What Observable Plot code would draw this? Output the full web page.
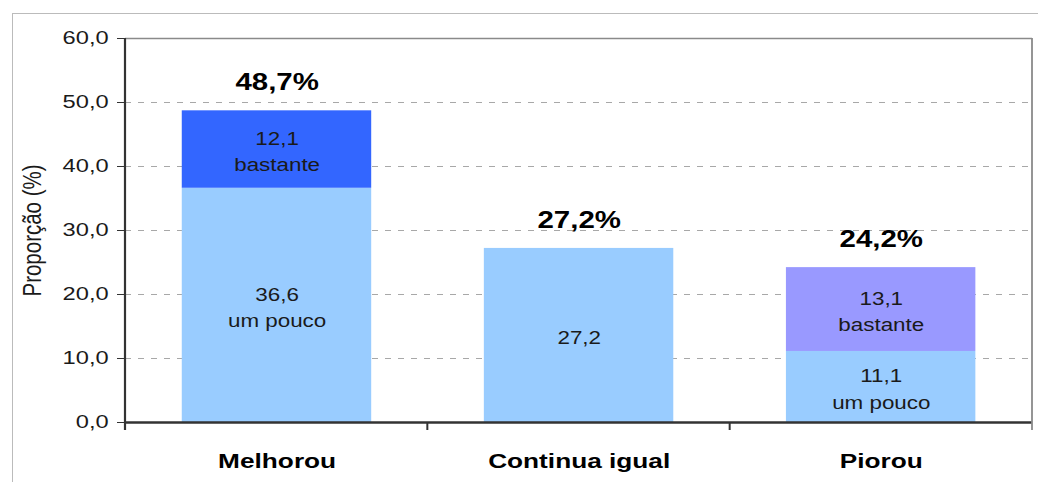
<!DOCTYPE html>
<html>
<head>
<meta charset="utf-8">
<script src="https://cdn.jsdelivr.net/npm/d3@7"></script>
<script src="https://cdn.jsdelivr.net/npm/@observablehq/plot@0.6"></script>
<style>
  html, body { margin: 0; padding: 0; background: #fff; }
  #wrap { position: relative; width: 1038px; height: 482px; overflow: hidden; background: #fff; }
  #border { position: absolute; left: 12px; top: 13px; width: 1040px; height: 480px;
            border-left: 1.5px solid #bbb; border-top: 1.5px solid #bbb; }
  #chart { position: absolute; left: 0; top: 0; }
  #chart svg line, #chart svg rect, #chart svg path { vector-effect: non-scaling-stroke; }
</style>
</head>
<body>
<div id="wrap"><div id="border"></div><div id="chart"></div></div>
<script>
// ---- data ----
const categories = ["Melhorou", "Continua igual", "Piorou"];
const umPouco = [36.6, 27.2, 11.1];
const bastante = [12.1, 0, 13.1];
const totals = [48.7, 27.2, 24.2];
const yTicks = [0, 10, 20, 30, 40, 50, 60];
const gridTicks = [10, 20, 30, 40, 50];
const partNames = ["um pouco", "bastante"];
const umPoucoColors = ["#99CCFF", "#99CCFF", "#99CCFF"];
const bastanteColors = ["#3366FF", "#3366FF", "#9999FF"];
const yLabel = "Proporção (%)";

// ---- layout ----
const W = 1038, H = 482, S = 1.28;          // reference is horizontally stretched
const PW = W / S;
const fmt = v => v.toFixed(1).replace(".", ",");

const rows = [];
categories.forEach((c, i) => {
  const split = bastante[i] > 0;
  rows.push({cat: c, part: partNames[0], value: umPouco[i], fill: umPoucoColors[i],
             label: fmt(umPouco[i]) + (split ? "\n" + partNames[0] : "")});
  if (split) rows.push({cat: c, part: partNames[1], value: bastante[i], fill: bastanteColors[i],
             label: fmt(bastante[i]) + "\n" + partNames[1]});
});
const totalRows = categories.map((c, i) => ({cat: c, total: totals[i]}));

const plot = Plot.plot({
  width: PW,
  height: H,
  marginLeft: 125 / S,
  marginRight: 6 / S,
  marginTop: 38,
  marginBottom: 60,
  style: {fontFamily: "Liberation Sans, Arial, sans-serif", background: "transparent", overflow: "visible"},
  x: {domain: categories, paddingInner: 0.372, paddingOuter: 0.186, axis: null},
  y: {domain: [0, 60], axis: null},
  color: {type: "identity"},
  marks: [
    Plot.ruleY(gridTicks, {stroke: "#a8a8a8", strokeWidth: 1.2, strokeDasharray: "6,7"}),
    Plot.barY(rows, {x: "cat", y: "value", fill: "fill"}),
    Plot.text(rows, Plot.stackY({x: "cat", y: "value", text: "label", fill: "#1a1a1a",
      fontSize: 17.5, lineHeight: 1.5})),
    Plot.text(totalRows, {x: "cat", y: "total", text: d => fmt(d.total) + "%", dy: -28,
      fontSize: 23, fontWeight: "bold", fill: "#000"}),
    Plot.ruleY([60], {stroke: "#8a8a8a", strokeWidth: 1.5}),
    Plot.ruleY([0], {stroke: "#333", strokeWidth: 2.5}),
    Plot.axisY({ticks: yTicks, tickFormat: fmt, tickSize: 8 / S, tickPadding: 7,
      fontSize: 18.5, stroke: "#333", fill: "#1a1a1a", label: null}),
    Plot.axisX({tickSize: 0, tickPadding: 31, fontSize: 20.5, fontWeight: "bold",
      fill: "#000", label: null}),
    Plot.text([yLabel], {frameAnchor: "left", textAnchor: "middle", rotate: -90,
      dx: (32 - 125) / S, fontSize: 20.5, fill: "#1a1a1a"})
  ]
});

// axis lines and boundary ticks from the plot's own scales
const xs = plot.scale("x"), ys = plot.scale("y");
const [r0, r1] = xs.range;
const n = categories.length;
const yTop = ys.apply(60), yBot = ys.apply(0);
const g = d3.select(plot).append("g");
// left axis
g.append("line").attr("x1", r0).attr("x2", r0).attr("y1", yTop).attr("y2", yBot + 8)
  .attr("stroke", "#333").attr("stroke-width", 2.2);
// right border
g.append("line").attr("x1", r1).attr("x2", r1).attr("y1", yTop).attr("y2", yBot + 8)
  .attr("stroke", "#8a8a8a").attr("stroke-width", 1.8);
// category boundary ticks
for (let i = 1; i < n; i++) {
  const bx = r0 + i * (r1 - r0) / n;
  g.append("line").attr("x1", bx).attr("x2", bx).attr("y1", yBot).attr("y2", yBot + 8)
    .attr("stroke", "#333").attr("stroke-width", 2);
}
g.selectAll("line").attr("vector-effect", "non-scaling-stroke");

plot.setAttribute("width", W);
plot.setAttribute("height", H);
plot.setAttribute("viewBox", `0 0 ${PW} ${H}`);
plot.setAttribute("preserveAspectRatio", "none");
plot.style.width = W + "px";
plot.style.height = H + "px";
plot.style.maxWidth = "none";
document.getElementById("chart").appendChild(plot);
</script>
</body>
</html>
